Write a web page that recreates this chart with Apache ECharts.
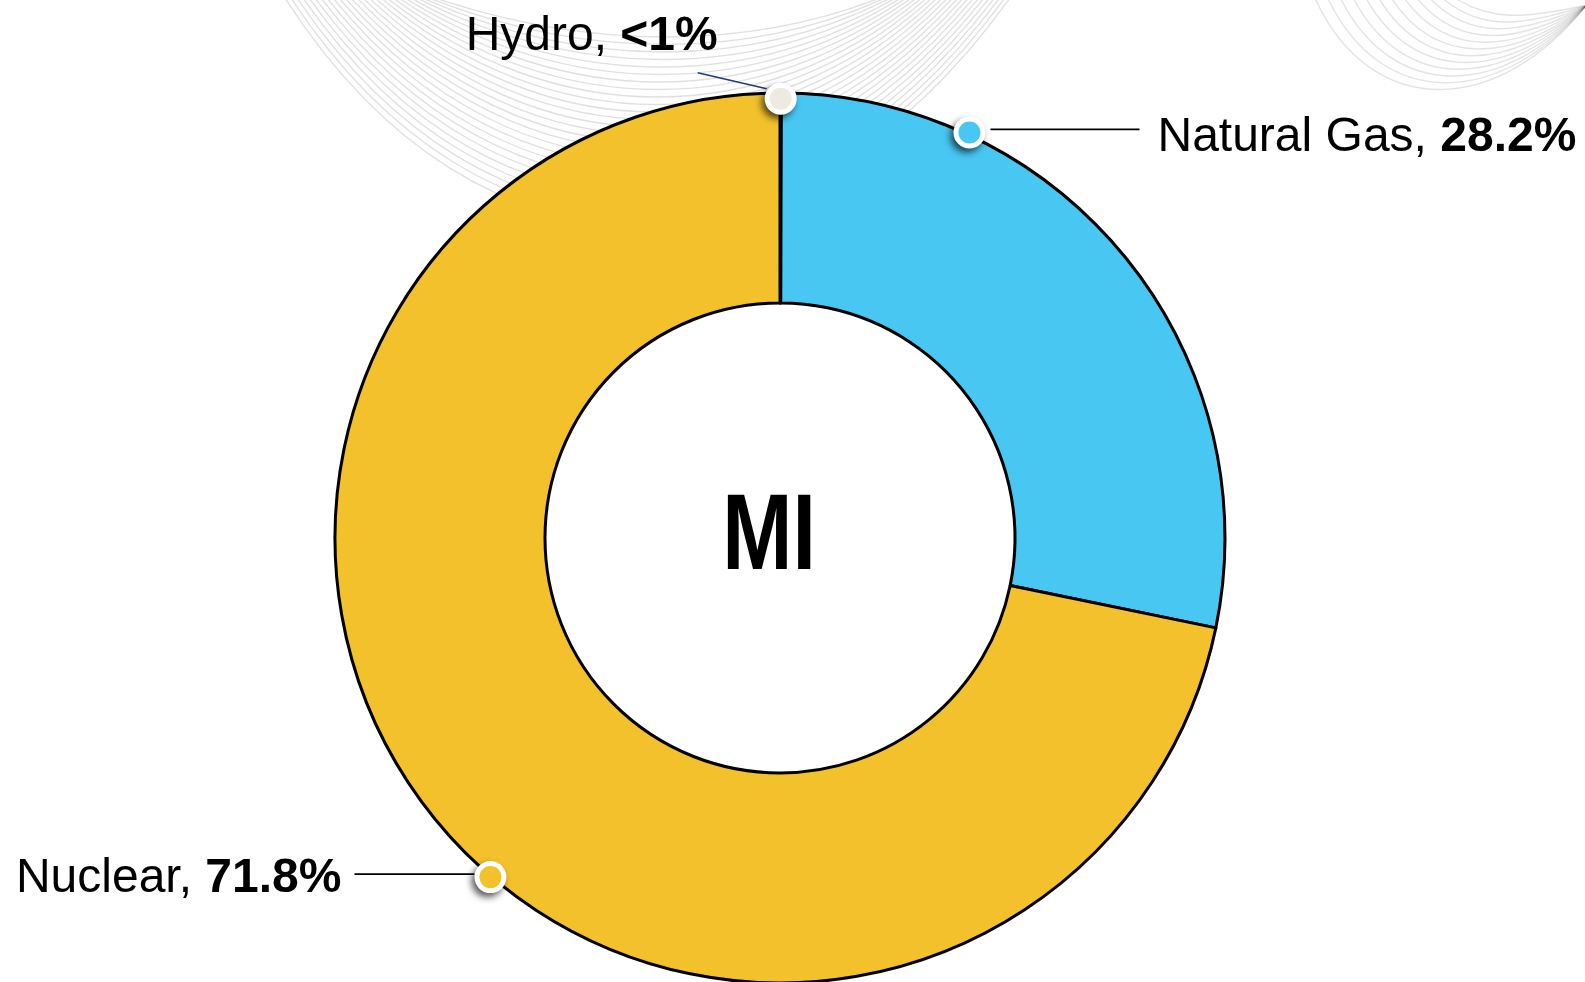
<!DOCTYPE html>
<html>
<head>
<meta charset="utf-8">
<script src="https://cdn.jsdelivr.net/npm/echarts@6/dist/echarts.min.js"></script>
<style>
  html, body { margin: 0; padding: 0; background: #fff; }
  #chart { width: 1585px; height: 982px; }
</style>
</head>
<body>
<div id="chart"></div>
<script>
// ---- data ----
const categories = ['Hydro', 'Natural Gas', 'Nuclear'];
const shares = [0.05, 28.2, 71.8];      // percent of generation
const stateLabel = 'MI';

// ---- styles / layout ----
const sliceColors = ['#ECEAE1', '#48C7F3', '#F3C12B'];
const lineColors = ['#1F3C78', '#000000', '#000000'];
const CENTER = [780, 538];
const R_IN = 235, R_OUT = 445;
const calloutFraction = [0.5, 0.245, 0.46];   // where along each slice the callout dot sits
const calloutRadius = [0.987, 1.006, 1.002];  // radial position of the dot (1 = outer edge)
const RADIAL_MAX = 1.2;
const FONT = '"Liberation Sans", Arial, sans-serif';
const FS = 48;

const total = shares.reduce((a, b) => a + b, 0);
let acc = 0;
const anchorAngles = shares.map((v, i) => { const a = acc + v * calloutFraction[i]; acc += v; return a; });

function pctText(v) { return v < 1 ? '<1%' : v.toFixed(1) + '%'; }

// label offsets relative to the callout dot: [dx, dy, align]
const labelOffsets = [[-189, -62, 'center'], [188, 5, 'left'], [-149, 2, 'right']];
// guide line relative to the callout dot: [[x1,y1],[x2,y2]]
const guideOffsets = [[[-83, -26], [-14, -10]], [[21, -3], [170, -3]], [[-136, -3], [-16, -3]]];

// decorative background curves
const bg = [];
for (let i = 0; i < 26; i++) {
  const t = i / 25;
  const x0 = 285 + 150 * t, x3 = 1010 - 130 * t;
  const d = 300 - 250 * t;
  bg.push({
    type: 'bezierCurve', z: 0, silent: true,
    shape: { x1: x0, y1: -2, cpx1: x0 + 0.35 * (x3 - x0) - 60 * (1 - t), cpy1: d,
             cpx2: x0 + 0.7 * (x3 - x0), cpy2: d, x2: x3, y2: -2 },
    style: { stroke: 'rgba(0,0,0,0.12)', lineWidth: 1.4, fill: null }
  });
}
for (let i = 0; i < 12; i++) {
  const t = i / 11;
  const x0 = 1315 + 140 * t;
  const d = 120 - 100 * t;
  bg.push({
    type: 'bezierCurve', z: 0, silent: true,
    shape: { x1: x0, y1: -2, cpx1: x0 + 55 - 20 * t, cpy1: d, cpx2: 1500 + 20 * t, cpy2: d, x2: 1592, y2: -2 + 6 * t },
    style: { stroke: 'rgba(0,0,0,0.11)', lineWidth: 1.4, fill: null }
  });
}
bg.push({
  type: 'text', z: 10, silent: true,
  x: 769, y: 539, scaleX: 0.78, scaleY: 1,
  style: { text: stateLabel, fontFamily: FONT, fontWeight: 'bold', fontSize: 108,
           fill: '#000', textAlign: 'center', textVerticalAlign: 'middle' }
});

const dotData = categories.map((c, i) => [calloutRadius[i], anchorAngles[i]]);

const chart = echarts.init(document.getElementById('chart'), null, { renderer: 'canvas' });
chart.setOption({
  animation: false,
  backgroundColor: '#ffffff',
  polar: { center: CENTER, radius: R_OUT * RADIAL_MAX },
  angleAxis: { type: 'value', min: 0, max: total, startAngle: 90, clockwise: true, show: false },
  radiusAxis: { type: 'value', min: 0, max: RADIAL_MAX, show: false },
  series: [
    {
      type: 'pie', z: 2, silent: true,
      center: CENTER, radius: [R_IN, R_OUT],
      startAngle: 90, clockwise: true,
      label: { show: false }, labelLine: { show: false },
      emphasis: { disabled: true },
      itemStyle: { borderColor: '#000', borderWidth: 3 },
      data: categories.map((c, i) => ({ name: c, value: shares[i], itemStyle: { color: sliceColors[i] } }))
    },
    {
      // white halo with drop shadow under each callout dot
      type: 'scatter', coordinateSystem: 'polar', z: 4, silent: true, clip: false,
      symbol: 'circle', symbolSize: 32,
      emphasis: { disabled: true },
      itemStyle: { color: '#ffffff', opacity: 1, shadowBlur: 7, shadowColor: 'rgba(0,0,0,0.65)',
                   shadowOffsetX: -3, shadowOffsetY: 4 },
      data: dotData
    },
    {
      type: 'scatter', coordinateSystem: 'polar', z: 5, silent: true, clip: false,
      symbol: 'circle', symbolSize: 22,
      emphasis: { disabled: true },
      label: {
        show: true, color: '#000', textBorderWidth: 0,
        formatter: p => '{n|' + categories[p.dataIndex] + ', }{b|' + pctText(shares[p.dataIndex]) + '}',
        rich: {
          n: { fontFamily: FONT, fontSize: FS, color: '#000' },
          b: { fontFamily: FONT, fontSize: FS, fontWeight: 'bold', color: '#000' }
        }
      },
      labelLine: { show: false },
      labelLayout: function (p) {
        const cx = p.rect.x + p.rect.width / 2, cy = p.rect.y + p.rect.height / 2;
        const o = labelOffsets[p.dataIndex];
        return { x: cx + o[0], y: cy + o[1], align: o[2], verticalAlign: 'middle' };
      },
      data: dotData.map((v, i) => ({
        name: categories[i], value: v,
        itemStyle: { color: sliceColors[i], opacity: 1 }
      }))
    }
  ]
});

// guide lines anchored at the dots' pixel positions (through the polar scale)
categories.forEach((c, i) => {
  const pt = chart.convertToPixel({ seriesIndex: 2 }, dotData[i]);
  const g = guideOffsets[i];
  bg.push({
    type: 'line', z: 3, silent: true,
    shape: { x1: pt[0] + g[0][0], y1: pt[1] + g[0][1], x2: pt[0] + g[1][0], y2: pt[1] + g[1][1] },
    style: { stroke: lineColors[i], lineWidth: 1.6 }
  });
});
chart.setOption({ graphic: { elements: bg } });
</script>
</body>
</html>
